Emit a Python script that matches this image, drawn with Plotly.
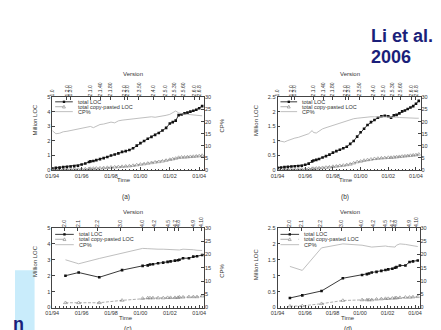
import plotly.graph_objects as go

W, H = 441, 330

# ---------------- data ----------------
time_tick_vals = [1994, 1996, 1998, 2000, 2002, 2004]
time_tick_text = ["01/94", "01/96", "01/98", "01/00", "01/02", "01/04"]
time_range = [1994, 2004.33]

linux_versions = ["1.0", "1.2.0", "1.3.0", "2.1.0", "2.1.40", "2.1.80", "2.2.0", "2.3.0",
                  "2.3.50", "2.4.0", "2.5.0", "2.5.30", "2.5.60", "2.6.0", "2.6.8"]
linux_version_time = [1994.0, 1995.0, 1995.25, 1996.6, 1997.3, 1997.95, 1998.9, 1999.1,
                      1999.9, 2000.9, 2001.67, 2002.33, 2002.9, 2003.7, 2004.0]

bsd_versions = ["2.0", "2.1", "2.2", "3.0", "4.0", "4.2", "4.5", "4.7", "4.8", "4.9", "4.10"]
bsd_version_time = [1994.85, 1995.75, 1997.1, 1998.65, 2000.13, 2000.98, 2001.87,
                    2002.35, 2002.58, 2003.58, 2004.13]

linux_time = [1994.0, 1994.25, 1994.5, 1994.75, 1995.0, 1995.25, 1995.5, 1995.75, 1996.0,
              1996.25, 1996.5, 1996.6, 1996.8, 1997.0, 1997.25, 1997.5, 1997.75, 1998.0,
              1998.25, 1998.5, 1998.75, 1999.0, 1999.25, 1999.5, 1999.75, 2000.0, 2000.25,
              2000.5, 2000.75, 2001.0, 2001.25, 2001.5, 2001.75, 2002.0, 2002.2, 2002.4,
              2002.6, 2002.8, 2003.0, 2003.2, 2003.4, 2003.6, 2003.8, 2004.0, 2004.2]

a_total_loc = [0.12, 0.15, 0.17, 0.2, 0.22, 0.24, 0.27, 0.3, 0.38, 0.45, 0.55, 0.6, 0.62,
               0.68, 0.75, 0.82, 0.9, 1.0, 1.07, 1.15, 1.25, 1.3, 1.38, 1.5, 1.68, 1.85,
               2.0, 2.15, 2.28, 2.42, 2.55, 2.72, 2.9, 3.2, 3.3, 3.4, 3.78, 3.83, 3.9,
               3.95, 4.02, 4.08, 4.15, 4.25, 4.4]
a_cp_loc = [0.02, 0.02, 0.03, 0.03, 0.04, 0.04, 0.05, 0.05, 0.06, 0.07, 0.09, 0.1, 0.11,
            0.12, 0.13, 0.15, 0.17, 0.19, 0.2, 0.22, 0.24, 0.26, 0.28, 0.31, 0.35, 0.39,
            0.42, 0.46, 0.5, 0.54, 0.57, 0.61, 0.66, 0.72, 0.76, 0.8, 0.86, 0.88, 0.88,
            0.9, 0.92, 0.93, 0.95, 0.97, 1.0]
a_cp_pct = [16.3, 15.0, 15.2, 15.8, 16.0, 16.3, 16.5, 16.8, 17.0, 17.3, 17.8, 18.0, 17.5,
            18.2, 18.8, 19.0, 19.3, 19.8, 19.5, 20.3, 20.6, 20.8, 21.0, 21.2, 21.5, 21.7,
            21.9, 22.0, 22.0, 21.8, 22.0, 22.3, 22.6, 23.0, 23.8, 24.4, 23.6, 23.2, 23.0,
            23.0, 22.9, 22.9, 22.8, 22.6, 22.4]

b_total_loc = [0.08, 0.09, 0.1, 0.11, 0.12, 0.13, 0.14, 0.15, 0.18, 0.22, 0.3, 0.33, 0.35,
               0.38, 0.43, 0.48, 0.53, 0.6, 0.65, 0.7, 0.75, 0.8, 0.9, 1.0, 1.15, 1.3,
               1.42, 1.55, 1.65, 1.72, 1.8, 1.85, 1.87, 1.85, 1.8, 1.88, 1.9, 1.95, 2.02,
               2.05, 2.1, 2.15, 2.2, 2.28, 2.38]
b_cp_loc = [0.01, 0.01, 0.01, 0.02, 0.02, 0.02, 0.02, 0.03, 0.03, 0.04, 0.05, 0.05, 0.06,
            0.07, 0.08, 0.09, 0.1, 0.12, 0.13, 0.15, 0.16, 0.18, 0.2, 0.24, 0.28, 0.3,
            0.33, 0.35, 0.37, 0.39, 0.4, 0.41, 0.42, 0.43, 0.43, 0.44, 0.45, 0.46, 0.47,
            0.48, 0.49, 0.5, 0.51, 0.52, 0.54]
b_cp_pct = [12.2, 11.8, 11.6, 12.2, 12.8, 13.2, 13.5, 14.0, 14.5, 15.0, 16.3, 15.5, 15.3,
            16.0, 17.0, 17.5, 18.0, 18.5, 18.8, 19.3, 19.8, 20.3, 20.8, 21.2, 21.4, 21.6,
            21.8, 21.9, 22.0, 22.0, 22.0, 22.0, 22.1, 22.1, 22.0, 21.8, 21.8, 21.7, 21.6,
            21.6, 21.6, 21.5, 21.5, 21.4, 21.4]

bsd_time = [1994.9, 1995.8, 1997.2, 1998.75, 2000.15, 2000.5, 2000.65, 2000.85, 2001.2,
            2001.55, 2001.85, 2002.05, 2002.35, 2002.55, 2002.65, 2002.9, 2003.3, 2003.6,
            2003.85, 2004.2]

c_total_loc = [2.0, 2.2, 1.9, 2.35, 2.62, 2.65, 2.7, 2.72, 2.78, 2.82, 2.87, 2.9, 2.95,
               2.97, 3.0, 3.1, 3.1, 3.2, 3.22, 3.3]
c_cp_loc = [0.3, 0.3, 0.3, 0.45, 0.57, 0.6, 0.6, 0.6, 0.6, 0.6, 0.62, 0.62, 0.62, 0.62,
            0.65, 0.65, 0.67, 0.67, 0.67, 0.72]
c_cp_pct = [18.0, 16.5, 18.5, 20.5, 22.3, 22.2, 22.1, 22.1, 22.0, 22.0, 21.9, 21.8, 21.6,
            21.5, 21.7, 22.0, 22.0, 21.8, 21.6, 21.5]

d_total_loc = [0.3, 0.38, 0.52, 0.92, 1.02, 1.05, 1.07, 1.1, 1.12, 1.15, 1.18, 1.2, 1.22,
               1.25, 1.27, 1.32, 1.32, 1.43, 1.45, 1.48]
d_cp_loc = [0.04, 0.05, 0.12, 0.22, 0.24, 0.24, 0.24, 0.24, 0.26, 0.27, 0.28, 0.28, 0.29,
            0.3, 0.3, 0.31, 0.32, 0.32, 0.33, 0.34]
d_cp_pct = [15.5, 14.0, 22.5, 24.0, 23.5, 23.3, 23.0, 22.8, 23.0, 23.2, 23.2, 23.0, 23.0,
            22.8, 23.5, 24.0, 23.8, 23.5, 23.3, 23.0]

legend_labels = ["total LOC", "total copy-pasted LOC", "CP%"]

# ---------------- layout geometry (pixels) ----------------
panels = [
    dict(cap="(a)", x0=38, x1=193, top=88, bot=162, ymax=5, dtick=1,
         t=linux_time, loc=a_total_loc, cp=a_cp_loc, pct=a_cp_pct,
         vt=linux_version_time, vl=linux_versions,
         mlab=(20, 111), cplab=(211, 117), tlab=(111, 172.5), vlab=(120, 64), caplab=(113, 189),
         rows=(92.5, 97.5, 102.5), lx=(41, 59, 62)),
    dict(cap="(b)", x0=268, x1=414, top=88, bot=162, ymax=2.5, dtick=0.5,
         t=linux_time, loc=b_total_loc, cp=b_cp_loc, pct=b_cp_pct,
         vt=linux_version_time, vl=linux_versions,
         mlab=(246, 111), cplab=(432, 121), tlab=(338, 172.5), vlab=(342, 64), caplab=(337, 189),
         rows=(92.5, 97.5, 102.5), lx=(271, 288, 291)),
    dict(cap="(c)", x0=38, x1=193, top=221, bot=302, ymax=5, dtick=1,
         t=bsd_time, loc=c_total_loc, cp=c_cp_loc, pct=c_cp_pct,
         vt=bsd_version_time, vl=bsd_versions,
         mlab=(21, 255), cplab=(212, 265), tlab=(113, 313), vlab=(120, 205), caplab=(115, 324),
         rows=(227.5, 232.5, 238), lx=(41, 60, 63)),
    dict(cap="(d)", x0=268, x1=413, top=221, bot=302, ymax=2.5, dtick=0.5,
         t=bsd_time, loc=d_total_loc, cp=d_cp_loc, pct=d_cp_pct,
         vt=bsd_version_time, vl=bsd_versions,
         mlab=(246, 258), cplab=(431, 265), tlab=(340, 313), vlab=(342, 205), caplab=(340, 324),
         rows=(227.5, 232.5, 238), lx=(271, 290, 293)),
]

FONT = "Liberation Sans, Arial, Helvetica, sans-serif"
AX = "#444"
TXT = "#333"


def fx(px):
    return px / W


def fy(py):
    return 1 - py / H


fig = go.Figure()
layout = dict(width=W, height=H, margin=dict(l=0, r=0, t=0, b=0),
              paper_bgcolor="white", plot_bgcolor="white", showlegend=False,
              font=dict(family=FONT, size=6, color=TXT))
annotations = []
shapes = []

for i, p in enumerate(panels):
    xb, xt = 2 * i + 1, 2 * i + 2
    yl, yr = 2 * i + 1, 2 * i + 2
    xbn = "x" if xb == 1 else f"x{xb}"
    ybn = "y" if yl == 1 else f"y{yl}"
    xkey = "xaxis" if xb == 1 else f"xaxis{xb}"
    ykey = "yaxis" if yl == 1 else f"yaxis{yl}"

    layout[xkey] = dict(domain=[fx(p["x0"]), fx(p["x1"])], anchor=ybn, range=time_range,
                        tickmode="array", tickvals=time_tick_vals, ticktext=time_tick_text,
                        ticks="inside", ticklen=3, tickwidth=0.6, tickcolor=AX,
                        minor=dict(ticks="inside", ticklen=1.5, tickwidth=0.5,
                                   tickcolor=AX, dtick=0.25, tick0=1994),
                        showline=True, mirror=True, linecolor=AX, linewidth=0.8,
                        showgrid=False, zeroline=False, tickfont=dict(size=5.5, color=TXT),
                        fixedrange=True)
    layout[f"xaxis{xt}"] = dict(overlaying=xbn, side="top", anchor=ybn, range=time_range,
                                tickmode="array", tickvals=p["vt"], ticktext=p["vl"],
                                tickangle=-90, ticks="inside", ticklen=3, tickwidth=0.6,
                                tickcolor=AX, showline=False, showgrid=False, zeroline=False,
                                tickfont=dict(size=5, color=TXT), fixedrange=True)
    layout[ykey] = dict(domain=[fy(p["bot"]), fy(p["top"])], anchor=xbn,
                        range=[0, p["ymax"]], dtick=p["dtick"], ticks="inside", ticklen=3,
                        tickwidth=0.6, tickcolor=AX, showline=True, mirror=True,
                        linecolor=AX, linewidth=0.8, showgrid=False, zeroline=False,
                        tickfont=dict(size=5.5, color=TXT), fixedrange=True)
    layout[f"yaxis{yr}"] = dict(overlaying=ybn, side="right", anchor=xbn, range=[0, 30],
                                dtick=5, ticks="inside", ticklen=3, tickwidth=0.6,
                                tickcolor=AX, showline=False, showgrid=False, zeroline=False,
                                tickfont=dict(size=5.5, color=TXT), fixedrange=True)

    # invisible trace to attach the version axis
    fig.add_trace(go.Scatter(x=p["vt"], y=[None] * len(p["vt"]), mode="markers",
                             xaxis=f"x{xt}", yaxis=ybn, hoverinfo="skip", showlegend=False))
    # CP%
    fig.add_trace(go.Scatter(x=p["t"], y=p["pct"], mode="lines", name="CP%",
                             line=dict(color="#b8b8b8", width=0.9),
                             xaxis=xbn, yaxis=f"y{yr}"))
    # copy-pasted LOC
    fig.add_trace(go.Scatter(x=p["t"], y=p["cp"], mode="lines+markers",
                             name="total copy-pasted LOC",
                             line=dict(color="#8a8a8a", width=0.7, dash="3px,1.5px"),
                             marker=dict(symbol="triangle-up-open", size=3.5, color="#808080",
                                         line=dict(width=0.6)),
                             xaxis=xbn, yaxis=ybn))
    # total LOC
    fig.add_trace(go.Scatter(x=p["t"], y=p["loc"], mode="lines+markers", name="total LOC",
                             line=dict(color="#222", width=0.9),
                             marker=dict(symbol="square", size=2.6, color="#111"),
                             xaxis=xbn, yaxis=ybn))

    # axis titles and caption
    annotations.append(dict(text="Million LOC", x=fx(p["mlab"][0]), y=fy(p["mlab"][1]),
                            xref="paper", yref="paper", showarrow=False, textangle=-90,
                            font=dict(size=6, color=TXT), xanchor="center", yanchor="middle"))
    annotations.append(dict(text="CP%", x=fx(p["cplab"][0]), y=fy(p["cplab"][1]),
                            xref="paper", yref="paper", showarrow=False, textangle=-90,
                            font=dict(size=6, color=TXT), xanchor="center", yanchor="middle"))
    annotations.append(dict(text="Time", x=fx(p["tlab"][0]), y=fy(p["tlab"][1]),
                            xref="paper", yref="paper", showarrow=False,
                            font=dict(size=6, color=TXT), xanchor="center", yanchor="middle"))
    annotations.append(dict(text="Version", x=fx(p["vlab"][0]), y=fy(p["vlab"][1]),
                            xref="paper", yref="paper", showarrow=False,
                            font=dict(size=6, color=TXT), xanchor="center", yanchor="middle"))
    annotations.append(dict(text=p["cap"], x=fx(p["caplab"][0]), y=fy(p["caplab"][1]),
                            xref="paper", yref="paper", showarrow=False,
                            font=dict(size=6.5, color=TXT), xanchor="center", yanchor="middle"))

    # legend key (drawn manually, gnuplot style)
    lx0, lx1, ltx = p["lx"]
    styles = [dict(color="#222", width=0.9, dash="solid"),
              dict(color="#8a8a8a", width=0.7, dash="dash"),
              dict(color="#b8b8b8", width=0.9, dash="solid")]
    for k, (lab, st) in enumerate(zip(legend_labels, styles)):
        ry = p["rows"][k]
        shapes.append(dict(type="line", xref="paper", yref="paper",
                           x0=fx(lx0), x1=fx(lx1), y0=fy(ry), y1=fy(ry), line=st))
        annotations.append(dict(text=lab, x=fx(ltx), y=fy(ry), xref="paper", yref="paper",
                                showarrow=False, xanchor="left", yanchor="middle",
                                font=dict(size=5.5, color=TXT)))
    mx = (lx0 + lx1) / 2
    r0 = p["rows"][0]
    shapes.append(dict(type="rect", xref="paper", yref="paper",
                       x0=fx(mx - 1.2), x1=fx(mx + 1.2), y0=fy(r0 + 1.2), y1=fy(r0 - 1.2),
                       fillcolor="#111", line=dict(width=0)))
    r1 = p["rows"][1]
    shapes.append(dict(type="path", xref="paper", yref="paper",
                       path=f"M {fx(mx - 1.5)},{fy(r1 + 1.3)} L {fx(mx + 1.5)},{fy(r1 + 1.3)} "
                            f"L {fx(mx)},{fy(r1 - 1.5)} Z",
                       fillcolor="white", line=dict(color="#808080", width=0.6)))

# slide title
annotations.append(dict(text="<b>Li et al.</b>", x=fx(361), y=fy(25), xref="paper",
                        yref="paper", showarrow=False, xanchor="left", yanchor="middle",
                        font=dict(size=18, color="#1b1f7a", family=FONT)))
annotations.append(dict(text="<b>2006</b>", x=fx(361), y=fy(47), xref="paper",
                        yref="paper", showarrow=False, xanchor="left", yanchor="middle",
                        font=dict(size=18, color="#1b1f7a", family=FONT)))

# light blue slide box at the bottom left
shapes.append(dict(type="rect", xref="paper", yref="paper", x0=0, x1=fx(20),
                   y0=0, y1=fy(264), fillcolor="#c9ecfb", line=dict(width=0), layer="above"))
annotations.append(dict(text="<b>n</b>", x=fx(11), y=fy(319), xref="paper", yref="paper",
                        showarrow=False, xanchor="right", yanchor="middle",
                        font=dict(size=18, color="#1b1f7a", family=FONT)))

layout["annotations"] = annotations
layout["shapes"] = shapes
fig.update_layout(**layout)

fig.write_html("out.html")
